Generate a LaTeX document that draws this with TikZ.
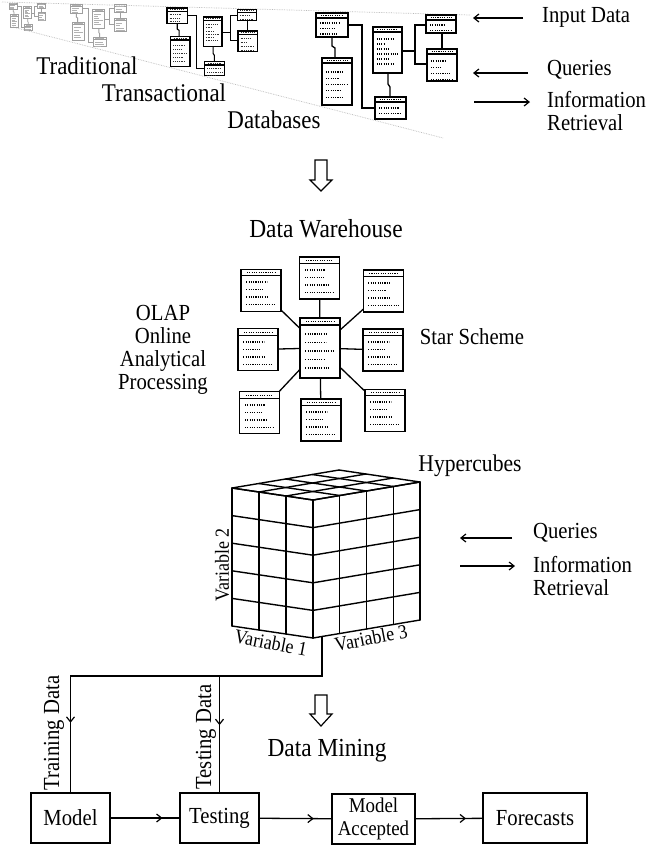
\documentclass[tikz,border=0pt]{standalone}
\usepackage{fontspec}
\setmainfont{Liberation Serif}[FakeStretch=0.9]
\usetikzlibrary{arrows.meta,decorations.markings}

% header + dotted rows of a table (no outline)
\newcommand{\dbt}[8]{%
  \draw[tblbox] (#1,{#2+#5}) -- (#3,{#2+#5});
  \draw[dotrow] ({#1+0.15*(#3-#1)},{#2+#5/2}) -- ({#3-0.15*(#3-#1)},{#2+#5/2});
  \foreach \f [count=\i from 0] in {#8} {
    \draw[dotrow] ({#1+0.13*(#3-#1)},{#2+#6+\i*#7}) -- ++({\f*0.74*(#3-#1)},0);
  }%
}
% table with outline
\newcommand{\dbtbox}[8]{%
  \draw[tblbox] (#1,#2) rectangle (#3,#4);
  \dbt{#1}{#2}{#3}{#4}{#5}{#6}{#7}{#8}%
}
% one cluster of linked tables (local coordinates)
\newcommand{\dbcluster}{%
  \dbtbox{0}{0}{32}{24}{5}{10}{5.5}{0.8,0.6,0.7}
  \dbtbox{6}{45}{36}{92}{5}{14}{6.3}{0.8,0.6,1,0.7,0.8}
  \dbtbox{57}{14}{86}{60}{5}{12}{5}{0.8,0.4,0.6,1,0.6,0.8}
  \dbtbox{110}{2}{140}{20}{5}{10}{5.5}{0.7,1}
  \dbtbox{111}{36}{141}{68}{5}{12}{6.3}{0.7,0.5,0.9,1}
  \dbtbox{59}{84}{90}{106}{5}{11}{5.5}{0.9,1,0.6}
  \draw[tblconn] (32,12) -- (46,12) -- (46,95) -- (59,95);
  \draw[tblconn] (16,24) -- (16,33) -- (19,35) -- (19,45);
  \draw[tblconn] (86,38) -- (99,38);
  \draw[tblconn] (110,12) -- (99,12) -- (99,51) -- (111,51);
  \draw[tblconn] (126,20) -- (126,36);
  \draw[tblconn] (72,60) -- (72,71) -- (74,74) -- (74,84);
}

\tikzset{
  lbl/.style={font=\fontsize{23}{23}\selectfont, inner sep=0pt, text=black},
  biglbl/.style={font=\fontsize{25.5}{26}\selectfont, inner sep=0pt, text=black},
  boxlbl/.style={font=\fontsize{23}{23}\selectfont, inner sep=0pt},
  varlbl/.style={font=\fontsize{20}{20}\selectfont, inner sep=0pt},
  tblbox/.style={line width=1.5pt, draw=black},
  dotrow/.style={line width=1.1pt, dash pattern=on 1.1pt off 1.2pt, draw=black},
  tblconn/.style={line width=1.3pt, draw=black},
  starbox/.style={draw=black, line width=1.6pt, inner sep=0pt, outer sep=0pt,
    minimum width=40pt, minimum height=42pt},
  cube/.style={line width=1.4pt, line cap=round, draw=black},
  conn/.style={line width=1.3pt, draw=black},
  arr/.style={line width=1.2pt, -{Straight Barb[length=5pt,width=8pt]}},
  midarr/.style={postaction={decorate}, decoration={markings,
    mark=at position #1 with {\arrow{Straight Barb[length=5pt,width=8pt,line width=1.2pt]}}}},
  flowbox/.style={draw=black, line width=1.3pt, inner sep=0pt, outer sep=0pt,
    minimum height=50pt, align=center},
  hollow/.style={draw=black, line width=1.2pt, fill=white, line join=miter},
  persp/.style={draw=gray!55, line width=0.7pt, densely dotted}
}

\begin{document}
\begin{tikzpicture}[x=1pt,y=-1pt]
\useasboundingbox[fill=white] (0,0) rectangle (650,847);

% ---------------- perspective guide lines ----------------
\coordinate (pt1) at (2,2);
\coordinate (pt2) at (470,15);
\coordinate (pb1) at (13,27);
\coordinate (pb2) at (443,138);
\draw[persp] (pt1) -- (pt2);
\draw[persp] (pb1) -- (pb2);

% ---------------- transactional database clusters ----------------
\begin{scope}[shift={(9,3)}, scale=0.26,
  tblbox/.style={line width=0.7pt, draw=gray!75},
  dotrow/.style={line width=0.5pt, draw=gray!60},
  tblconn/.style={line width=0.7pt, draw=gray!75}]
  \dbcluster
\end{scope}
\begin{scope}[shift={(70,4)}, scale=0.4,
  tblbox/.style={line width=0.9pt, draw=gray!75},
  dotrow/.style={line width=0.6pt, draw=gray!60},
  tblconn/.style={line width=0.9pt, draw=gray!75}]
  \dbcluster
\end{scope}
\begin{scope}[shift={(167,8)}, scale=0.64,
  tblbox/.style={line width=1.2pt, draw=black},
  dotrow/.style={line width=0.8pt, dash pattern=on 0.8pt off 1pt, draw=black!80},
  tblconn/.style={line width=1.1pt, draw=black}]
  \dbcluster
\end{scope}
\begin{scope}[shift={(316,13)}]
  \dbcluster
\end{scope}

\node[biglbl] (trad) at (87,66) {Traditional};
\node[biglbl] (trans) at (164,93) {Transactional};
\node[biglbl] (dbs) at (274,120) {Databases};

\node[lbl, anchor=west] (inp) at (542,17) {Input Data};
\node[lbl, anchor=west] (q1) at (547,70) {Queries};
\node[lbl, anchor=west, align=left] (ir1) at (547,111) {Information\\Retrieval};
\coordinate (a1s) at (523,18); \coordinate (a1e) at (473,18);
\coordinate (a2s) at (528,73); \coordinate (a2e) at (473,73);
\coordinate (a3s) at (474,102); \coordinate (a3e) at (530,102);
\draw[arr] (a1s) -- (a1e);
\draw[arr] (a2s) -- (a2e);
\draw[arr] (a3s) -- (a3e);

% ---------------- hollow arrow 1 ----------------
\draw[hollow] (315,160) -- (327,160) -- (327,180) -- (332,180) -- (321,191)
  -- (310,180) -- (315,180) -- cycle;

\node[biglbl, font=\fontsize{26}{26}\selectfont] (dw) at (326,229) {Data Warehouse};

% ---------------- star scheme ----------------
\node[starbox, minimum height=60pt] (sC) at (320,348) {};
\node[starbox] (sT) at (319.5,278) {};
\node[starbox] (sTL) at (261,290.5) {};
\node[starbox] (sTR) at (383.5,291) {};
\node[starbox] (sL) at (258,349.5) {};
\node[starbox] (sR) at (383,350) {};
\node[starbox] (sBL) at (259.5,412.5) {};
\node[starbox] (sB) at (321,420) {};
\node[starbox] (sBR) at (385,410.5) {};
\dbt{300}{318}{340}{378}{7}{16}{8.5}{0.75,0.7,1,0.65,0.85}
\dbt{300}{257}{339}{299}{6.5}{13}{7.5}{0.7,0.65,0.8,1}
\dbt{241}{269}{281}{312}{6.5}{13}{7.5}{0.7,0.6,0.75,1}
\dbt{363}{270}{404}{312}{6.5}{13}{7.5}{0.7,0.6,0.75,1}
\dbt{238}{329}{278}{370}{6.5}{13}{7.5}{0.7,0.6,0.75,1}
\dbt{363}{329}{403}{371}{6.5}{13}{7.5}{0.7,0.6,0.75,1}
\dbt{240}{392}{279}{433}{6.5}{13}{7.5}{0.7,0.6,0.75,1}
\dbt{301}{399}{341}{441}{6.5}{13}{7.5}{0.7,0.6,0.75,1}
\dbt{365}{389}{405}{432}{6.5}{13}{7.5}{0.7,0.6,0.75,1}
\foreach \s in {sT,sTL,sTR,sL,sR,sBL,sB,sBR}
  \draw[conn] (sC) -- (\s);

\node[lbl, align=center] (olap) at (163,350) {OLAP\\Online\\Analytical\\Processing};
\node[lbl] (star) at (472,337) {Star Scheme};

% ---------------- hypercube ----------------
\def\Fx{313}\def\Fy{500}\def\ax{-81}\def\ay{-12}\def\bx{107}\def\by{-18}\def\hh{138}
\foreach \i in {0,...,3}
  \draw[cube] ({\Fx+\ax*\i/3},{\Fy+\ay*\i/3}) -- ++(0,\hh);
\foreach \j in {0,...,5}
  \draw[cube] (\Fx,{\Fy+\hh*\j/5}) -- ++(\ax,\ay);
\foreach \i in {0,...,4}
  \draw[cube] ({\Fx+\bx*\i/4},{\Fy+\by*\i/4}) -- ++(0,\hh);
\foreach \j in {0,...,5}
  \draw[cube] (\Fx,{\Fy+\hh*\j/5}) -- ++(\bx,\by);
\foreach \i in {0,...,3}
  \draw[cube] ({\Fx+\ax*\i/3},{\Fy+\ay*\i/3}) -- ++(\bx,\by);
\foreach \i in {0,...,4}
  \draw[cube] ({\Fx+\bx*\i/4},{\Fy+\by*\i/4}) -- ++(\ax,\ay);

\node[lbl, font=\fontsize{24}{24}\selectfont] (hyp) at (470,466) {Hypercubes};
\node[varlbl, rotate=90] (v2) at (222,565) {Variable 2};
\node[varlbl, rotate=-11] (v1) at (271,643) {Variable 1};
\node[varlbl, rotate=11] (v3) at (371,638) {Variable 3};

\node[lbl, anchor=west] (q2) at (533,533) {Queries};
\node[lbl, anchor=west, align=left] (ir2) at (533,576) {Information\\Retrieval};
\coordinate (b1s) at (512,538); \coordinate (b1e) at (460,538);
\coordinate (b2s) at (460,566); \coordinate (b2e) at (515,566);
\draw[arr] (b1s) -- (b1e);
\draw[arr] (b2s) -- (b2e);

% ---------------- hollow arrow 2 ----------------
\draw[hollow] (315,695) -- (327,695) -- (327,714) -- (332,714) -- (321,726)
  -- (310,714) -- (315,714) -- cycle;
\node[biglbl, font=\fontsize{26}{26}\selectfont] (dm) at (327,751) {Data Mining};

% ---------------- data mining flow ----------------
\node[flowbox, minimum width=79pt, boxlbl] (model) at (70.5,818) {Model};
\node[flowbox, minimum width=79pt, boxlbl] (testing) at (219.5,818) {Testing};
\node[flowbox, minimum width=83pt, font=\fontsize{21}{23}\selectfont] (acc) at (373.5,819) {Model\\Accepted};
\node[flowbox, minimum width=104pt, boxlbl] (fore) at (535,818) {Forecasts};

\coordinate (cubeout) at (322,636.5);
\coordinate (jA) at (322,676);
\coordinate (jM) at (model.north |- jA);
\coordinate (jT) at (testing.north |- jA);
\draw[conn, line join=miter] (cubeout) -- (jA) -- (jM) -- (model.north);
\draw[conn, midarr=0.4] (jM) -- (model.north);
\draw[conn, midarr=0.42] (jT) -- (testing.north);

\node[boxlbl, rotate=90] (train) at (54,733) {Training Data};
\node[boxlbl, rotate=90] (testd) at (206,737) {Testing Data};

\draw[conn, midarr=0.75] (model) -- (testing);
\draw[conn, midarr=0.75] (testing) -- (acc);
\draw[conn, midarr=0.75] (acc) -- (fore);

\end{tikzpicture}
\end{document}
